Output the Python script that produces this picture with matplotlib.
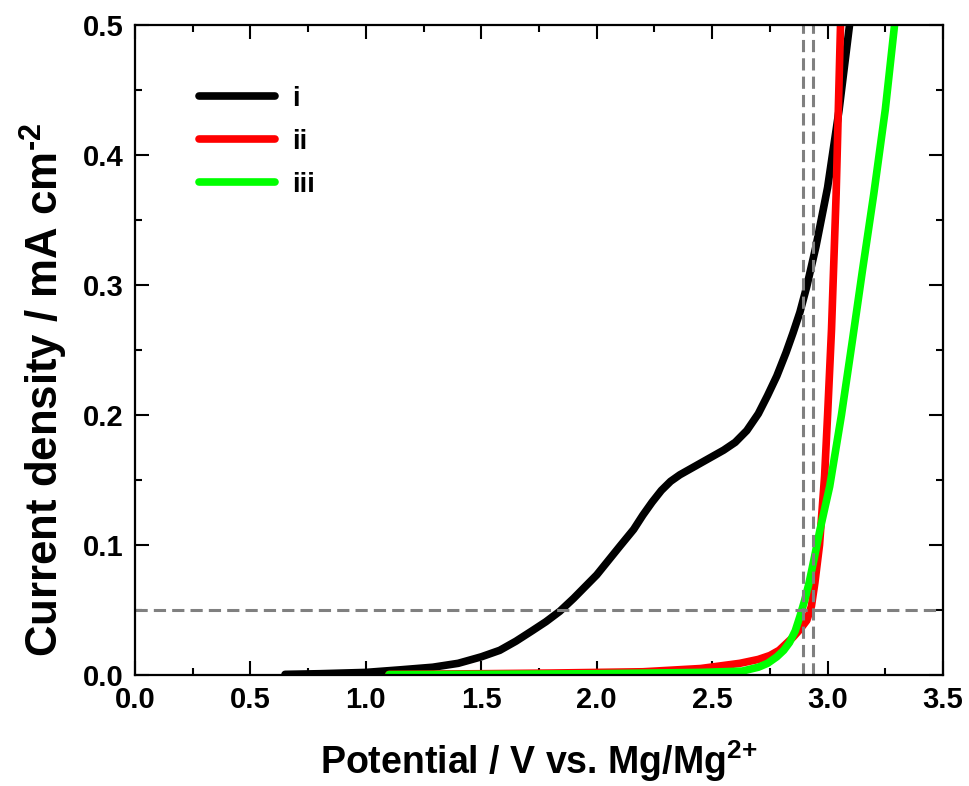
import numpy as np
import matplotlib
matplotlib.use('Agg')
import matplotlib.pyplot as plt
from matplotlib.ticker import MultipleLocator

# linear sweep voltammetry curves for the three electrolytes
pot_i = [0.65, 0.80, 1.00, 1.15, 1.29, 1.40, 1.50, 1.58, 1.65, 1.72, 1.78,
         1.84, 1.90, 1.95, 2.00, 2.05, 2.10, 2.16, 2.20, 2.24, 2.28, 2.32,
         2.36, 2.40, 2.45, 2.50, 2.55, 2.60, 2.65, 2.70, 2.74, 2.78, 2.82,
         2.85, 2.88, 2.91, 2.95, 3.00, 3.05, 3.095]
cur_i = [0.0005, 0.001, 0.002, 0.004, 0.006, 0.009, 0.014, 0.019, 0.026,
         0.034, 0.041, 0.049, 0.059, 0.068, 0.077, 0.088, 0.099, 0.112,
         0.123, 0.133, 0.142, 0.149, 0.154, 0.158, 0.163, 0.168, 0.173,
         0.179, 0.188, 0.201, 0.215, 0.230, 0.248, 0.263, 0.279, 0.299,
         0.330, 0.375, 0.435, 0.500]

pot_ii = [1.10, 1.50, 1.80, 2.00, 2.20, 2.45, 2.62, 2.70, 2.75, 2.79, 2.82,
          2.85, 2.88, 2.91, 2.93, 2.945, 2.965, 2.987, 3.00, 3.017, 3.037,
          3.056]
cur_ii = [0.0005, 0.001, 0.0015, 0.002, 0.0025, 0.005, 0.009, 0.012, 0.015,
          0.019, 0.024, 0.029, 0.035, 0.042, 0.053, 0.071, 0.100, 0.153,
          0.200, 0.266, 0.370, 0.500]

pot_iii = [1.10, 1.50, 2.00, 2.45, 2.63, 2.70, 2.74, 2.78, 2.81, 2.835,
           2.86, 2.88, 2.90, 2.92, 2.94, 2.965, 2.99, 3.009, 3.06, 3.108,
           3.15, 3.20, 3.25, 3.29]
cur_iii = [0.0003, 0.0005, 0.001, 0.002, 0.003, 0.006, 0.009, 0.014, 0.019,
           0.025, 0.034, 0.045, 0.057, 0.071, 0.088, 0.110, 0.130, 0.145,
           0.200, 0.258, 0.310, 0.370, 0.435, 0.500]

labels = ['i', 'ii', 'iii']
colors = ['black', '#ff0000', '#00ff00']

# onset markers: current cut-off and the potentials where it is reached
cutoff = 0.05
onsets = [2.895, 2.935]

plt.rcParams['font.family'] = 'Liberation Sans'
plt.rcParams['font.weight'] = 'bold'
plt.rcParams['axes.labelweight'] = 'bold'
plt.rcParams['mathtext.fontset'] = 'custom'
plt.rcParams['mathtext.rm'] = 'Liberation Sans:bold'
plt.rcParams['mathtext.bf'] = 'Liberation Sans:bold'
plt.rcParams['mathtext.default'] = 'bf'

fig = plt.figure(figsize=(9.69, 7.86), dpi=100)
ax = fig.add_axes([0.1393, 0.1412, 0.8339, 0.8270])

series = [(pot_i, cur_i), (pot_ii, cur_ii), (pot_iii, cur_iii)]
for (x, y), lbl, c in zip(series, labels, colors):
    ax.plot(x, y, color=c, lw=5.5, label=lbl, solid_capstyle='round',
            solid_joinstyle='round')

dash = dict(color='#808080', lw=2.2, ls=(0, (4, 2)))
ax.axhline(cutoff, **dash)
for v in onsets:
    ax.axvline(v, **dash)

ax.set_xlim(0, 3.5)
ax.set_ylim(0, 0.5)
ax.xaxis.set_major_locator(MultipleLocator(0.5))
ax.xaxis.set_minor_locator(MultipleLocator(0.25))
ax.yaxis.set_major_locator(MultipleLocator(0.1))
ax.yaxis.set_minor_locator(MultipleLocator(0.05))
ax.tick_params(which='both', direction='in', top=True, right=True, width=1.5)
ax.tick_params(which='major', length=10, labelsize=21, pad=8)
ax.tick_params(which='minor', length=5)
for s in ax.spines.values():
    s.set_linewidth(1.6)

ax.set_xlabel(r'Potential / V vs. Mg/Mg$^{\text{2+}}$', fontsize=27)
ax.set_ylabel(r'Current density / mA cm$^{\text{-2}}$', fontsize=31.5)
ax.xaxis.set_label_coords(0.5, -0.097)
ax.yaxis.set_label_coords(-0.113, 0.438)
ax.yaxis.label.set_va('center')

ax.legend(loc='upper left', bbox_to_anchor=(0.048, 0.945), frameon=False,
          fontsize=20, handlelength=2.75, labelspacing=0.62, handletextpad=0.6)

plt.savefig('out.png', dpi=100)
